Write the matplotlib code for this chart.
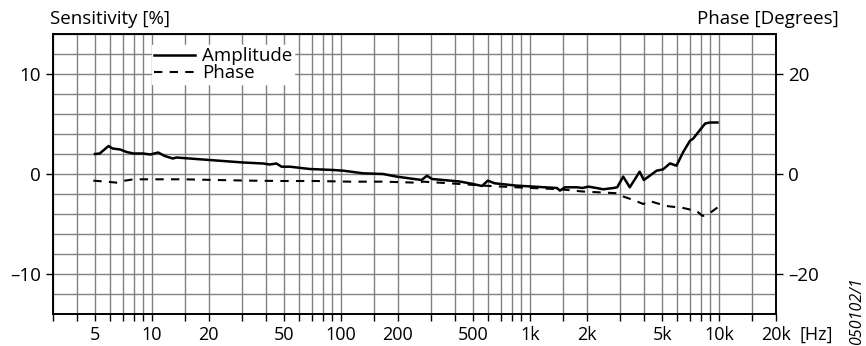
import numpy as np
import matplotlib
matplotlib.use('Agg')
from matplotlib import pyplot as plt

plt.rcParams['font.family'] = ['Open Sans', 'DejaVu Sans']
plt.rcParams['font.size'] = 13.5

# Amplitude curve (sensitivity in %)
amp_freq = [5.0, 5.3, 5.9, 6.2, 6.8, 7.35, 8.0, 9.0, 9.8, 10.8, 11.7, 12.9, 13.5,
            14.6, 20.2, 30.4, 38.8, 42, 45.6, 48.5, 53.7, 68.5, 91, 103, 131, 167,
            197, 267, 285, 303, 347, 377, 428, 500, 557, 598, 650, 845, 1280,
            1387, 1440, 1530, 1770, 1900, 2030, 2250, 2440, 2760, 2890, 3110,
            3370, 3800, 4000, 4280, 4670, 5050, 5500, 5950, 6460, 7000, 7300,
            7920, 8440, 8940, 9800]
amp_val = [2.0, 2.05, 2.8, 2.55, 2.45, 2.2, 2.05, 2.05, 1.95, 2.15, 1.8, 1.55, 1.65,
           1.6, 1.4, 1.15, 1.05, 0.95, 1.05, 0.73, 0.73, 0.5, 0.4, 0.33, 0.07, 0.0,
           -0.26, -0.6, -0.17, -0.5, -0.6, -0.66, -0.76, -1.0, -1.2, -0.66, -0.93,
           -1.16, -1.36, -1.4, -1.66, -1.33, -1.33, -1.4, -1.26, -1.4, -1.53, -1.4,
           -1.33, -0.26, -1.33, 0.23, -0.6, -0.2, 0.33, 0.46, 1.06, 0.83, 2.2, 3.3,
           3.55, 4.4, 5.05, 5.15, 5.15]

# Phase curve (degrees)
ph_freq = [4.9, 5.75, 6.5, 7.2, 8.0, 9.8, 14.6, 22, 33, 49.5, 74, 111, 167, 250,
           272, 377, 568, 845, 1440, 1900, 2890, 3110, 3520, 3970, 4280, 5260,
           6460, 7600, 8180, 8940, 9800]
ph_val = [-1.33, -1.53, -1.73, -1.33, -1.06, -1.06, -1.06, -1.2, -1.33, -1.4, -1.4,
          -1.53, -1.53, -1.73, -1.53, -1.86, -2.33, -2.66, -3.05, -3.5, -3.85,
          -4.5, -5.2, -6.0, -5.4, -6.4, -6.8, -7.4, -8.4, -7.8, -6.7]

# x grid / ticks
x_grid = [3, 4, 5, 6, 7, 8, 9]
for d in [10, 100, 1000]:
    x_grid += [m * d for m in [1, 1.5, 2, 3, 4, 5, 6, 7, 8, 9]]
x_grid += [10000, 15000, 20000]
x_labels = {5: '5', 10: '10', 20: '20', 50: '50', 100: '100', 200: '200',
            500: '500', 1000: '1k', 2000: '2k', 5000: '5k', 10000: '10k',
            20000: '20k'}

fig = plt.figure(figsize=(8.66, 3.46), dpi=100)
ax = fig.add_axes([0.0612, 0.0925, 0.8349, 0.8092])
ax2 = ax.twinx()

ax.set_xscale('log')
ax.set_xlim(3, 20000)
ax.set_ylim(-14, 14)
ax2.set_ylim(-28, 28)

grid_col = '#808080'
for xv in x_grid:
    ax.axvline(xv, color=grid_col, lw=1.0, zorder=0)
for yv in np.arange(-14, 15, 2):
    ax.axhline(yv, color=grid_col, lw=1.0, zorder=0)

dash = (0, (4, 3.5))
ax.plot(amp_freq, amp_val, color='black', lw=1.8, label='Amplitude', zorder=3)
ax2.plot(ph_freq, ph_val, color='black', lw=1.5, ls=dash, zorder=3)
ax.plot([], [], color='black', lw=1.5, ls=dash, label='Phase')

ax.set_xticks(x_grid)
ax.set_xticklabels([x_labels.get(int(round(v)), '') for v in x_grid])
ax.xaxis.set_minor_locator(plt.NullLocator())
ax.set_yticks([-10, 0, 10])
ax.set_yticklabels(['\u201310', '0', '10'])
ax2.set_yticks([-20, 0, 20])
ax2.set_yticklabels(['\u201320', '0', '20'])

for a in (ax, ax2):
    a.tick_params(direction='out', length=5, width=1, colors='black', labelsize=13.5)
    for s in a.spines.values():
        s.set_linewidth(1.2)
ax.tick_params(axis='x', pad=4, labelsize=13)

leg = ax.legend(loc='upper left', bbox_to_anchor=(0.137, 0.96), frameon=True,
                fancybox=False, edgecolor='white', framealpha=1, fontsize=13.5,
                handlelength=2.2, handletextpad=0.35, borderpad=0.1,
                labelspacing=-0.05, borderaxespad=0)
leg.set_zorder(5)

fig.text(0.058, 0.945, 'Sensitivity [%]', ha='left', va='center', fontsize=13.5)
fig.text(0.968, 0.945, 'Phase [Degrees]', ha='right', va='center', fontsize=13.5)
fig.text(0.943, 0.032, '[Hz]', ha='center', va='center', fontsize=13)
fig.text(0.99, 0.1, '050102/1', ha='center', va='center', rotation=90,
         style='italic', fontsize=11.5)

fig.savefig('out.png', dpi=100)
